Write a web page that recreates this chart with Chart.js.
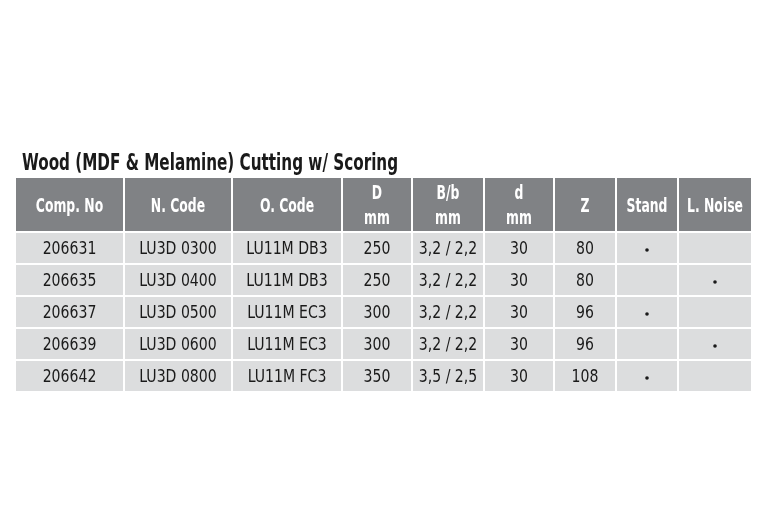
<!DOCTYPE html>
<html>
<head>
<meta charset="utf-8">
<title>Wood (MDF & Melamine) Cutting w/ Scoring</title>
<script src="https://cdn.jsdelivr.net/npm/chart.js@4.4.1/dist/chart.umd.min.js"></script>
<style>
  html, body { margin: 0; padding: 0; background: #ffffff; }
  canvas { display: block; }
</style>
</head>
<body>
<canvas id="tableChart" width="768" height="531"></canvas>
<script>
// Dados da tabela
const title = 'Wood (MDF & Melamine) Cutting w/ Scoring';
const headers = ['Comp. No', 'N. Code', 'O. Code', 'D\nmm', 'B/b\nmm', 'd\nmm', 'Z', 'Stand', 'L. Noise'];
const compNo = ['206631', '206635', '206637', '206639', '206642'];
const nCode = ['LU3D 0300', 'LU3D 0400', 'LU3D 0500', 'LU3D 0600', 'LU3D 0800'];
const oCode = ['LU11M DB3', 'LU11M DB3', 'LU11M EC3', 'LU11M EC3', 'LU11M FC3'];
const diameter = [250, 250, 300, 300, 350];
const kerf = ['3,2 / 2,2', '3,2 / 2,2', '3,2 / 2,2', '3,2 / 2,2', '3,5 / 2,5'];
const bore = [30, 30, 30, 30, 30];
const teeth = [80, 80, 96, 96, 108];
const standard = [true, false, true, false, true];
const lowNoise = [false, true, false, true, false];

// Layout (unidades das escalas)
const colWidths = [109, 108, 110, 70, 72, 70, 62, 62, 74];
const headerHeight = 55;
const rowHeight = 32;
const gap = 2;
const FONT = '"Liberation Sans Narrow", "DejaVu Sans Condensed", "Roboto", sans-serif';

const colEdges = [0];
colWidths.forEach(w => colEdges.push(colEdges[colEdges.length - 1] + w));
const rowEdges = [0, headerHeight];
compNo.forEach(() => rowEdges.push(rowEdges[rowEdges.length - 1] + rowHeight));

const columns = [compNo, nCode, oCode, diameter, kerf, bore, teeth];

function colCenter(i) { return (colEdges[i] + colEdges[i + 1] - gap) / 2; }
function rowCenter(r) { return (rowEdges[r] + rowEdges[r + 1] - gap) / 2; }

function dotPoints(flags, col) {
    const pts = [];
    flags.forEach((f, i) => { if (f) pts.push({ x: colCenter(col), y: rowCenter(i + 1) + 2 }); });
    return pts;
}

// texto condensado (escala horizontal)
function narrowText(ctx, text, x, y, sx) {
    ctx.save();
    ctx.translate(x, y);
    ctx.scale(sx, 1);
    ctx.fillText(text, 0, 0);
    ctx.restore();
}

const tablePlugin = {
    id: 'tablePlugin',
    beforeDatasetsDraw(chart) {
        const ctx = chart.ctx;
        const xs = chart.scales.x, ys = chart.scales.y;
        ctx.save();
        for (let r = 0; r < rowEdges.length - 1; r++) {
            ctx.fillStyle = r === 0 ? '#808285' : '#dcddde';
            for (let c = 0; c < colWidths.length; c++) {
                const x0 = xs.getPixelForValue(colEdges[c]);
                const x1 = xs.getPixelForValue(colEdges[c + 1] - gap);
                const y0 = ys.getPixelForValue(rowEdges[r]);
                const y1 = ys.getPixelForValue(rowEdges[r + 1] - gap);
                ctx.fillRect(x0, y0, x1 - x0, y1 - y0);
            }
        }
        ctx.restore();
    },
    afterDatasetsDraw(chart) {
        const ctx = chart.ctx;
        const xs = chart.scales.x, ys = chart.scales.y;
        ctx.save();
        ctx.textAlign = 'center';
        ctx.textBaseline = 'middle';

        // cabeçalho
        ctx.fillStyle = '#ffffff';
        ctx.font = 'bold 19px ' + FONT;
        headers.forEach((h, c) => {
            const x = xs.getPixelForValue(colCenter(c));
            const y = ys.getPixelForValue(rowCenter(0)) + 3;
            const lines = h.split('\n');
            if (lines.length === 1) {
                narrowText(ctx, lines[0], x, y, 0.725);
            } else {
                narrowText(ctx, lines[0], x, y - 13, 0.725);
                narrowText(ctx, lines[1], x, y + 12, 0.725);
            }
        });

        // linhas de dados
        ctx.fillStyle = '#1a1a1a';
        ctx.font = '17px ' + FONT;
        columns.forEach((col, c) => {
            col.forEach((v, r) => {
                narrowText(ctx, String(v), xs.getPixelForValue(colCenter(c)),
                    ys.getPixelForValue(rowCenter(r + 1)) + 2, 0.92);
            });
        });

        // título
        ctx.textAlign = 'left';
        ctx.textBaseline = 'alphabetic';
        ctx.font = 'bold 23px ' + FONT;
        narrowText(ctx, title, chart.chartArea.left + 6, chart.chartArea.top - 8, 0.735);
        ctx.restore();
    }
};

new Chart(document.getElementById('tableChart'), {
    type: 'scatter',
    data: {
        datasets: [{
            label: 'Stand',
            data: dotPoints(standard, 7),
            pointRadius: 1.8,
            backgroundColor: '#1a1a1a',
            borderWidth: 0
        }, {
            label: 'L. Noise',
            data: dotPoints(lowNoise, 8),
            pointRadius: 1.8,
            backgroundColor: '#1a1a1a',
            borderWidth: 0
        }]
    },
    options: {
        responsive: false,
        animation: false,
        devicePixelRatio: 1,
        layout: { padding: { left: 16, right: 15, top: 178, bottom: 138 } },
        plugins: { legend: { display: false }, tooltip: { enabled: false } },
        scales: {
            x: { type: 'linear', display: false, min: 0, max: colEdges[colEdges.length - 1] },
            y: { type: 'linear', display: false, min: 0, max: rowEdges[rowEdges.length - 1], reverse: true }
        }
    },
    plugins: [tablePlugin]
});
</script>
</body>
</html>
